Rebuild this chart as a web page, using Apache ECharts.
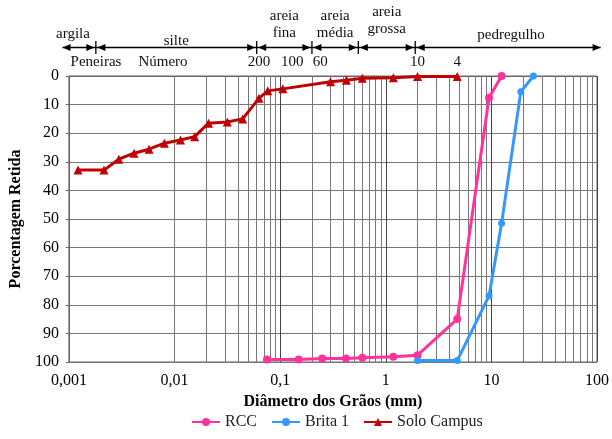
<!DOCTYPE html>
<html><head><meta charset="utf-8">
<script src="https://cdn.jsdelivr.net/npm/echarts@6/dist/echarts.min.js"></script>
<style>html,body{margin:0;padding:0;background:#fff}#c{width:612px;height:439px}</style>
</head><body><div id="c"></div>
<script>
// Data (diameter in mm, percentage retained)
var rccX = [0.075, 0.15, 0.25, 0.42, 0.6, 1.18, 2.0, 4.75, 9.5, 12.5];
var rccY = [99.1, 99.1, 98.8, 98.8, 98.5, 98.2, 97.6, 85, 7.6, 0];
var britaX = [2.0, 4.75, 9.5, 12.5, 19, 25];
var britaY = [99.5, 99.5, 76.9, 51.5, 5.5, 0];
var soloX = [0.00122, 0.00215, 0.00297, 0.00414, 0.00574, 0.00802, 0.0114, 0.0155, 0.021, 0.0316, 0.0442, 0.063, 0.0763, 0.106, 0.3, 0.424, 0.6, 1.18, 2.0, 4.75];
var soloY = [32.9, 32.9, 29.1, 27.0, 25.6, 23.5, 22.4, 21.2, 16.5, 16.1, 15.0, 7.8, 5.2, 4.5, 2.0, 1.5, 0.8, 0.6, 0.2, 0.2];
var seriesNames = ['RCC', 'Brita 1', 'Solo Campus'];
var xTicks = [0.001, 0.01, 0.1, 1, 10, 100];
// sieve annotations (label, diameter as placed in the figure)
var sieveLabels = ['200', '100', '60', '10', '4'];
var sieveX = [0.063, 0.13, 0.24, 2.0, 4.75];
// soil class boundaries as drawn
var classBounds = [0.00087, 0.0018, 0.06, 0.2, 0.55, 1.9, 95];
var classNames = [['argila'], ['silte'], ['areia', 'fina'], ['areia', 'média'], ['areia', 'grossa'], ['pedregulho']];

function zip(a, b) { return a.map(function (v, i) { return [v, b[i]]; }); }
var minorVals = [];
for (var d = -3; d <= 1; d++) for (var k = 2; k <= 9; k++) minorVals.push(+(k * Math.pow(10, d)).toPrecision(3));

var FONT = '"Liberation Serif", "Times New Roman", serif';
var chart = echarts.init(document.getElementById('c'));
var option = {
  animation: false,
  textStyle: { fontFamily: FONT, color: '#000' },
  grid: { left: 64, right: 8, top: 76, bottom: 77, show: true, borderColor: '#666', borderWidth: 1 },
  legend: {
    bottom: 4, left: 186, itemWidth: 28, itemHeight: 10, itemGap: 14,
    textStyle: { fontFamily: FONT, fontSize: 16, color: '#222' },
    data: seriesNames
  },
  xAxis: {
    type: 'log', logBase: 10, min: 0.001, max: 100,
    name: 'Diâmetro dos Grãos (mm)', nameLocation: 'middle', nameGap: 31,
    nameTextStyle: { fontFamily: FONT, fontSize: 16, fontWeight: 'bold', color: '#000' },
    axisLine: { lineStyle: { color: '#666' } },
    axisTick: { show: false },
    axisLabel: { fontFamily: FONT, fontSize: 16, color: '#000', margin: 11,
      formatter: function (v) { return String(+(+v).toPrecision(6)).replace('.', ','); } },
    splitLine: { show: true, lineStyle: { color: '#444', width: 1 } }
  },
  yAxis: {
    type: 'value', inverse: true, min: 0, max: 100, interval: 10,
    name: 'Porcentagem Retida', nameLocation: 'middle', nameGap: 41,
    nameTextStyle: { fontFamily: FONT, fontSize: 16, fontWeight: 'bold', color: '#000' },
    axisLine: { show: true, lineStyle: { color: '#666' } },
    axisTick: { show: true, length: 3, lineStyle: { color: '#666' } },
    axisLabel: { fontFamily: FONT, fontSize: 16, color: '#000', margin: 10 },
    splitLine: { show: true, lineStyle: { color: '#777', width: 1 } }
  },
  series: [
    {
      name: 'grid', type: 'line', data: [], silent: true,
      markLine: { silent: true, symbol: 'none', label: { show: false },
        lineStyle: { color: '#777', width: 1, type: 'solid' },
        data: minorVals.map(function (v) { return { xAxis: v }; }) }
    },
    { name: 'RCC', type: 'line', data: zip(rccX, rccY), color: '#FF3399',
      symbol: 'circle', symbolSize: 8, lineStyle: { width: 3 }, z: 5 },
    { name: 'Brita 1', type: 'line', data: zip(britaX, britaY), color: '#3399FF',
      symbol: 'circle', symbolSize: 7, lineStyle: { width: 3 }, z: 5 },
    { name: 'Solo Campus', type: 'line', data: zip(soloX, soloY), color: '#C00000',
      symbol: 'triangle', symbolSize: 9, lineStyle: { width: 3 }, z: 6 }
  ]
};
chart.setOption(option);

function px(v) { return chart.convertToPixel({ xAxisIndex: 0 }, v); }
var g = [];
var yA = 47.5, top = 76;
var tStyle = function (t, x, y) {
  return { type: 'text', x: x, y: y, style: { text: t, fill: '#111', font: '15px ' + FONT, textAlign: 'center', textVerticalAlign: 'middle' } };
};
function arrowHead(x, dir) {
  return { type: 'polygon', shape: { points: [[x, yA], [x - dir * 8, yA - 3.5], [x - dir * 8, yA + 3.5]] }, style: { fill: '#000' } };
}
var bx = classBounds.map(px);
g.push({ type: 'line', shape: { x1: bx[0], y1: yA, x2: bx[bx.length - 1] + 6, y2: yA }, style: { stroke: '#000', lineWidth: 1.3 } });
for (var i = 0; i < bx.length - 1; i++) {
  var a = bx[i] + (i === 0 ? 0 : 1.5), b = bx[i + 1] - (i === bx.length - 2 ? -6 : 1.5);
  g.push(arrowHead(a, -1));
  g.push(arrowHead(b, 1));
  var cx = (bx[i] + bx[i + 1]) / 2;
  var names = classNames[i];
  if (i === 0) cx = 73;
  if (i === 5) cx = 511;
  if (names.length === 1) g.push(tStyle(names[0], cx, i === 0 ? 34 : (i === 1 ? 41 : 35)));
  else { var y0 = (i === 4) ? 12 : 16; g.push(tStyle(names[0], cx, y0)); g.push(tStyle(names[1], cx, y0 + 17)); }
}
for (var j = 1; j < bx.length - 1; j++) {
  g.push({ type: 'line', shape: { x1: bx[j], y1: 41, x2: bx[j], y2: 54 }, style: { stroke: '#000', lineWidth: 1.3 } });
}
g.push(tStyle('Peneiras', 96, 62));
g.push(tStyle('Número', 163, 62));
sieveX.forEach(function (v, i) {
  var x = px(v);
  g.push(tStyle(sieveLabels[i], x, 62));
  g.push({ type: 'line', shape: { x1: x, y1: 69, x2: x, y2: top + 6 }, style: { stroke: '#000', lineWidth: 1.2 } });
});
chart.setOption({ graphic: g });
</script></body></html>
